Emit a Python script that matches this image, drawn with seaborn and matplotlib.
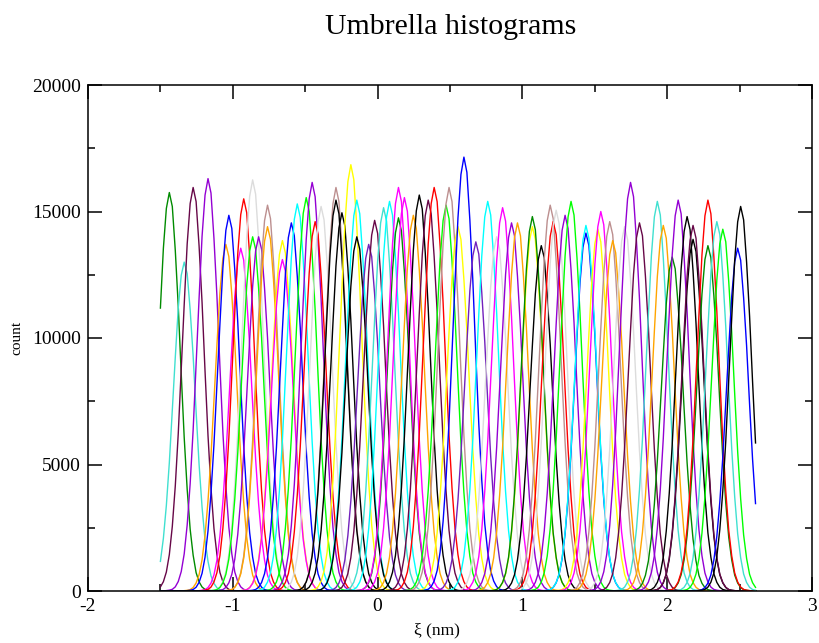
import numpy as np
import pandas as pd
import matplotlib
matplotlib.use("Agg")
import matplotlib.pyplot as plt
import seaborn as sns
from matplotlib.ticker import MultipleLocator

# Grace default colour map
GRACE = {
    "black": "#000000", "red": "#ff0000", "green": "#00ff00", "blue": "#0000ff",
    "yellow": "#ffff00", "brown": "#bc8f8f", "grey": "#dcdcdc", "violet": "#9400d3",
    "cyan": "#00ffff", "magenta": "#ff00ff", "orange": "#ffa500", "indigo": "#7221bc",
    "maroon": "#670748", "turquoise": "#40e0d0", "green4": "#008b00",
}

# umbrella windows: histogram centre (nm), peak count, set colour
centers = [
    -1.436, -1.344, -1.282, -1.178, -1.054, -1.026, -0.950, -0.923, -0.867, -0.867,
    -0.812, -0.764, -0.757, -0.660, -0.660, -0.605, -0.550, -0.494, -0.446, -0.432,
    -0.391, -0.287, -0.287, -0.239, -0.184, -0.135, -0.135, -0.066, -0.025, 0.037,
    0.079, 0.134, 0.134, 0.182, 0.238, 0.286, 0.341, 0.396, 0.479, 0.500,
    0.548, 0.604, 0.686, 0.769, 0.818, 0.866, 0.921, 0.970, 1.066, 1.073,
    1.135, 1.184, 1.211, 1.239, 1.294, 1.343, 1.432, 1.446, 1.515, 1.550,
    1.612, 1.619, 1.709, 1.757, 1.812, 1.923, 1.978, 2.026, 2.075, 2.137,
    2.171, 2.185, 2.282, 2.289, 2.344, 2.392, 2.496, 2.503,
]
heights = [
    15750, 13000, 15950, 16300, 13700, 14850, 13550, 15500, 16250, 14000,
    14000, 15250, 14400, 13850, 13100, 14550, 15300, 15550, 16150, 14600,
    15200, 15950, 15450, 14950, 16850, 15450, 14000, 13700, 14650, 15150,
    15400, 14750, 15950, 15550, 14850, 15650, 15450, 15950, 15250, 15950,
    14400, 17150, 13800, 15400, 14000, 15150, 14550, 14550, 14400, 14800,
    13650, 15250, 14600, 15050, 14850, 15400, 14150, 14450, 14300, 15000,
    14600, 13850, 14400, 16150, 14550, 15400, 14450, 13200, 15450, 14800,
    13900, 14450, 13650, 15450, 14600, 14300, 13550, 15200,
]
set_colors = [
    "green4", "turquoise", "maroon", "violet", "orange", "blue", "magenta", "red", "grey", "green",
    "violet", "brown", "orange", "yellow", "magenta", "blue", "cyan", "green", "violet", "red",
    "grey", "brown", "black", "black", "yellow", "cyan", "black", "indigo", "maroon", "turquoise",
    "cyan", "green4", "magenta", "magenta", "orange", "black", "maroon", "red", "green", "brown",
    "yellow", "blue", "indigo", "cyan", "grey", "magenta", "violet", "orange", "yellow", "green4",
    "black", "brown", "red", "grey", "violet", "green", "blue", "cyan", "yellow", "magenta",
    "brown", "orange", "grey", "violet", "maroon", "turquoise", "orange", "green4", "violet", "black",
    "black", "maroon", "green4", "red", "turquoise", "green", "blue", "black",
]

# shape of one window histogram, relative to its peak (one value per bin)
profile = [0.001, 0.002, 0.004, 0.010, 0.023, 0.047, 0.09, 0.16, 0.26, 0.39,
           0.55, 0.71, 0.86, 0.96, 1.0, 0.965, 0.855, 0.715, 0.545, 0.385,
           0.255, 0.155, 0.09, 0.046, 0.023, 0.010, 0.004, 0.002, 0.001]

# common histogram grid
xi_min, xi_max, n_bins = -1.50, 2.61, 200

bins = np.linspace(xi_min, xi_max, n_bins + 1)
prof = np.asarray(profile)
half = len(prof) // 2

frames = []
for i, (c, h) in enumerate(zip(centers, heights)):
    counts = np.zeros_like(bins)
    k = int(np.argmin(np.abs(bins - c)))
    lo, hi = k - half, k + half + 1
    plo, phi = max(0, -lo), len(prof) - max(0, hi - len(bins))
    counts[max(lo, 0):min(hi, len(bins))] = h * prof[plo:phi]
    frames.append(pd.DataFrame({"xi": bins, "count": counts, "window": i}))
data = pd.concat(frames, ignore_index=True)

plt.rcParams["font.family"] = ["Liberation Serif", "DejaVu Serif"]
plt.rcParams["axes.unicode_minus"] = False

fig = plt.figure(figsize=(8.19, 6.43), dpi=100)
ax = fig.add_axes([88 / 819, 52 / 643, 724 / 819, 506 / 643])

sns.lineplot(data=data, x="xi", y="count", hue="window",
             palette=[GRACE[c] for c in set_colors], estimator=None,
             sort=False, linewidth=1.0, legend=False, ax=ax)

ax.set_xlim(-2, 3)
ax.set_ylim(0, 20000)
ax.xaxis.set_major_locator(MultipleLocator(1))
ax.xaxis.set_minor_locator(MultipleLocator(0.5))
ax.yaxis.set_major_locator(MultipleLocator(5000))
ax.yaxis.set_minor_locator(MultipleLocator(2500))
ax.tick_params(which="both", direction="in", top=True, right=True, width=1.1,
               labelsize=14)
ax.tick_params(which="major", length=10, pad=5)
ax.tick_params(which="minor", length=5)
for s in ax.spines.values():
    s.set_linewidth(1.1)

ax.set_xlabel("ξ (nm)", fontsize=12.5)
ax.xaxis.set_label_coords(0.482, -0.062)
ax.set_ylabel("count", fontsize=11, labelpad=6)
fig.text(451 / 819, 1 - 27 / 643, "Umbrella histograms", fontsize=21.5,
         ha="center", va="center")

fig.savefig("out.png", dpi=100)
